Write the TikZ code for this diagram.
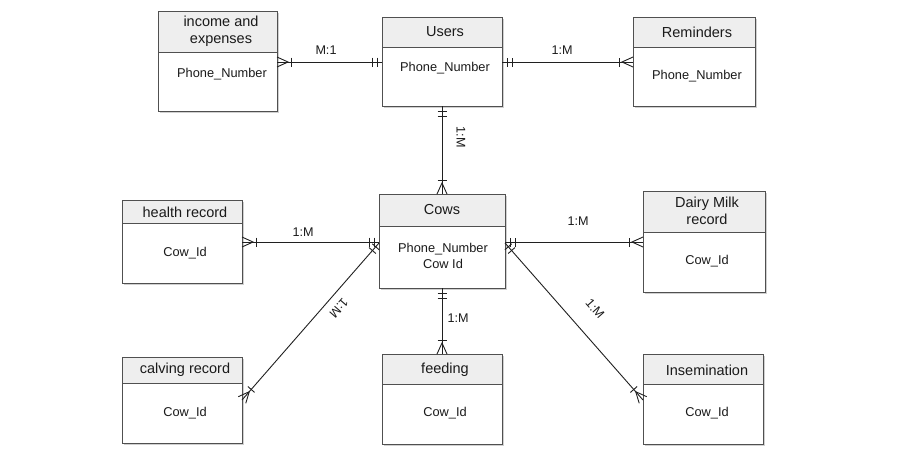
\documentclass[tikz,border=0pt]{standalone}
\usepackage{fontspec}
\setmainfont{Liberation Sans}
\usetikzlibrary{decorations.markings,calc}
\definecolor{bord}{HTML}{505050}
\definecolor{hdrfill}{HTML}{EEEEEE}
\definecolor{shadowc}{HTML}{D0D0D0}
\definecolor{ln}{HTML}{202020}
\definecolor{txt}{HTML}{1A1A1A}
\tikzset{
  entbg/.style={fill=white, draw=none, inner sep=0pt, outer sep=0pt, anchor=north west},
  bordline/.style={draw=bord, line width=1pt},
  hdrtext/.style={text=txt, font=\fontsize{14.5}{16.5}\selectfont, align=center, inner sep=0pt},
  bodytext/.style={text=txt, font=\fontsize{12.8}{15.5}\selectfont, align=center, inner sep=0pt},
  lbl/.style={text=txt, font=\fontsize{12.6}{14}\selectfont, inner sep=0pt},
  conn/.style={draw=ln, line width=0.9pt},
  mk/.style={draw=ln, line width=0.9pt},
  startone/.style={postaction={decorate, decoration={markings,
      mark=at position 5pt with {\draw[mk] (0,-4.5pt) -- (0,4.5pt);},
      mark=at position 10pt with {\draw[mk] (0,-4.5pt) -- (0,4.5pt);}}}},
  endcrow/.style={postaction={decorate, decoration={markings,
      mark=at position -14pt with {\draw[mk] (0,-4.5pt) -- (0,4.5pt);},
      mark=at position -11pt with {\draw[mk] (11pt,-5pt) -- (0,0) -- (11pt,5pt);}}}}
}
\newcommand{\entity}[6]{%
  \fill[shadowc] (#2+2,#3+2) rectangle (#4+2,#5+2);
  \node[entbg, minimum width=#4-#2, minimum height=#5-#3] (#1) at (#2,#3) {};
  \fill[hdrfill] (#2,#3) rectangle (#4,#6);
  \draw[bordline] (#2,#3) rectangle (#4,#5);
  \draw[bordline] (#2,#6) -- (#4,#6);
}
\begin{document}
\begin{tikzpicture}[x=1pt,y=-1pt]
\useasboundingbox[fill=white] (0,0) rectangle (899,464);

% entities
\entity{income}{158}{11}{277}{111}{52}
\entity{users}{382}{17}{502}{106}{47}
\entity{remind}{633}{17}{755}{106}{47}
\entity{cows}{379}{194}{505}{288}{226}
\entity{health}{122}{200}{242}{283}{223}
\entity{dairy}{643}{191}{765}{292}{232}
\entity{calving}{122}{357}{242}{443}{383}
\entity{feeding}{382}{354}{502}{444}{384}
\entity{insem}{643}{354}{763}{444}{384}

% entity texts
\node[hdrtext] (income-h) at (221,31) {income and\\expenses};
\node[bodytext] (income-b) at (222,74) {Phone\_Number};
\node[hdrtext] (users-h) at (445,32) {Users};
\node[bodytext] (users-b) at (445,68) {Phone\_Number};
\node[hdrtext] (remind-h) at (697,32) {Reminders};
\node[bodytext] (remind-b) at (697,76) {Phone\_Number};
\node[hdrtext] (cows-h) at (442,210) {Cows};
\node[bodytext] (cows-b) at (443,256) {Phone\_Number\\Cow Id};
\node[hdrtext] (health-h) at (185,212) {health record};
\node[bodytext] (health-b) at (185,253) {Cow\_Id};
\node[hdrtext] (dairy-h) at (707,211) {Dairy Milk\\record};
\node[bodytext] (dairy-b) at (707,261) {Cow\_Id};
\node[hdrtext] (calving-h) at (185,370) {calving record};
\node[bodytext] (calving-b) at (185,413) {Cow\_Id};
\node[hdrtext] (feeding-h) at (445,370) {feeding};
\node[bodytext] (feeding-b) at (445,413) {Cow\_Id};
\node[hdrtext] (insem-h) at (707,370) {Insemination};
\node[bodytext] (insem-b) at (707,413) {Cow\_Id};

% connectors
\draw[conn, startone, endcrow] (users.west |- 0,62) -- (income.east |- 0,62);
\draw[conn, startone, endcrow] (users.east |- 0,62) -- (remind.west |- 0,62);
\draw[conn, startone, endcrow] (users.south) -- (cows.north);
\draw[conn, startone, endcrow] (cows.west |- 0,242) -- (health.east |- 0,242);
\draw[conn, startone, endcrow] (cows.east |- 0,242) -- (dairy.west |- 0,242);
\draw[conn, startone, endcrow] (cows.south) -- (feeding.north);
\draw[conn, startone, endcrow] (cows.west |- 0,243) -- (calving.east |- 0,400);
\draw[conn, startone, endcrow] (cows.east |- 0,243) -- (insem.west |- 0,400);

% relationship labels
\node[lbl] (l-inc) at (326,50) {M:1};
\node[lbl] (l-rem) at (562,50) {1:M};
\node[lbl, rotate=-90] (l-cow) at (461,137) {1:M};
\node[lbl] (l-hea) at (303,232) {1:M};
\node[lbl] (l-dai) at (578,221) {1:M};
\node[lbl] (l-fee) at (458,318) {1:M};
\node[lbl, rotate=228.9] (l-cal) at (339,308) {1:M};
\node[lbl, rotate=-48.7] (l-ins) at (595,309) {1:M};
\end{tikzpicture}
\end{document}
